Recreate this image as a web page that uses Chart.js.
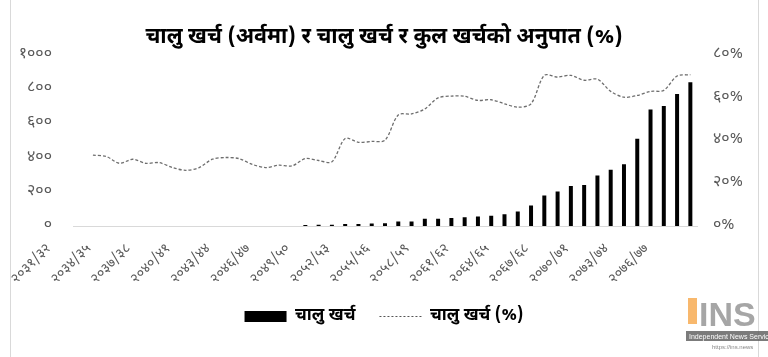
<!DOCTYPE html>
<html>
<head>
<meta charset="utf-8">
<script src="https://cdn.jsdelivr.net/npm/chart.js@4.4.1/dist/chart.umd.min.js"></script>
<style>
  html, body { margin: 0; padding: 0; background: #ffffff; }
  #wrap { width: 768px; height: 357px; position: relative; }
</style>
</head>
<body>
<div id="wrap"><canvas id="c" width="768" height="357"></canvas></div>
<script>
// ---------- data ----------
const categories = ['२०३१/३२','२०३२/३३','२०३३/३४','२०३४/३५','२०३५/३६','२०३६/३७','२०३७/३८','२०३८/३९','२०३९/४०','२०४०/४१','२०४१/४२','२०४२/४३','२०४३/४४','२०४४/४५','२०४५/४६','२०४६/४७','२०४७/४८','२०४८/४९','२०४९/५०','२०५०/५१','२०५१/५२','२०५२/५३','२०५३/५४','२०५४/५५','२०५५/५६','२०५६/५७','२०५७/५८','२०५८/५९','२०५९/६०','२०६०/६१','२०६१/६२','२०६२/६३','२०६३/६४','२०६४/६५','२०६५/६६','२०६६/६७','२०६७/६८','२०६८/६९','२०६९/७०','२०७०/७१','२०७१/७२','२०७२/७३','२०७३/७४','२०७४/७५','२०७५/७६','२०७६/७७','२०७७/७८'];
const currentExpenditure = [0.1,0.1,0.1,0.1,0.1,0.2,0.2,0.2,0.2,0.3,0.3,0.3,0.4,0.4,0.5,0.5,0.6,6,7,8,11,12,14,16,26,27,42,42,46,51,55,60,69,85,120,178,201,234,240,295,328,361,509,681,701,771,839];
const currentSharePct = [null,33.1,32.5,29.3,31.2,29.3,29.6,27.3,26.0,27.3,31.2,32.0,31.5,28.8,27.3,28.4,28.1,31.5,30.6,30.0,40.9,39.1,39.5,40.1,51.9,52.4,54.7,59.9,60.7,60.6,58.7,59.0,57.1,55.5,57.1,70.4,69.6,70.4,68.1,68.6,62.9,60.2,61.0,62.9,63.4,70.1,70.7];
const leftTickLabels = ['०','२००','४००','६००','८००','१०००'];
const rightTickLabels = ['०%','२०%','४०%','६०%','८०%'];
const seriesNames = ['चालु खर्च', 'चालु खर्च (%)'];
const titleText = 'चालु खर्च (अर्वमा) र चालु खर्च र कुल खर्चको अनुपात (%)';

const FONT = "'Noto Sans Devanagari','Noto Serif Devanagari','Lohit Devanagari','FreeSerif','Noto Sans',sans-serif";

const decor = {
  id: 'decor',
  afterDraw(chart) {
    const ctx = chart.ctx;
    ctx.save();
    ctx.strokeStyle = '#d9d9d9';
    ctx.lineWidth = 1;
    ctx.beginPath();
    ctx.moveTo(10.5, 0); ctx.lineTo(10.5, 357);
    ctx.moveTo(758.5, 0); ctx.lineTo(758.5, 357);
    ctx.stroke();
    // watermark
    ctx.fillStyle = 'rgba(245,160,60,0.75)';
    ctx.fillRect(688, 298, 9, 26);
    ctx.fillStyle = 'rgba(150,150,150,0.85)';
    ctx.font = "bold 34px 'Liberation Sans', sans-serif";
    ctx.textBaseline = 'alphabetic';
    ctx.fillText('INS', 699, 326);
    ctx.fillStyle = 'rgba(90,90,90,0.8)';
    ctx.fillRect(686, 331, 82, 10);
    ctx.fillStyle = '#ffffff';
    ctx.font = "7px 'Liberation Sans', sans-serif";
    ctx.fillText('Independent News Service', 689, 339);
    ctx.fillStyle = 'rgba(120,120,120,0.9)';
    ctx.font = "6px 'Liberation Sans', sans-serif";
    ctx.fillText('https://ins.news', 712, 349);
    ctx.restore();
  }
};

new Chart(document.getElementById('c'), {
  data: {
    labels: categories,
    datasets: [
      {
        type: 'bar',
        label: seriesNames[0],
        data: currentExpenditure,
        backgroundColor: '#000000',
        yAxisID: 'y',
        barPercentage: 0.3,
        categoryPercentage: 1.0,
        order: 2
      },
      {
        type: 'line',
        label: seriesNames[1],
        data: currentSharePct,
        borderColor: '#6e6e6e',
        borderWidth: 1.3,
        borderDash: [3, 2],
        pointRadius: 0,
        tension: 0.3,
        fill: false,
        yAxisID: 'y1',
        order: 1
      }
    ]
  },
  options: {
    responsive: false,
    animation: false,
    layout: { padding: { left: 0, right: 0, top: 0, bottom: 22 } },
    plugins: {
      title: {
        display: true,
        text: titleText,
        color: '#000000',
        font: { family: FONT, size: 21.5, weight: 'bold' },
        padding: { top: 26, bottom: 3 }
      },
      legend: {
        position: 'bottom',
        labels: {
          usePointStyle: true,
          pointStyleWidth: 42,
          boxHeight: 11,
          padding: 24,
          color: '#000000',
          font: { family: FONT, size: 17, weight: 'bold' },
          generateLabels() {
            return [
              { text: seriesNames[0], fillStyle: '#000000', strokeStyle: '#000000', lineWidth: 0, pointStyle: 'rect', datasetIndex: 0 },
              { text: seriesNames[1], fillStyle: 'rgba(0,0,0,0)', strokeStyle: '#555555', lineWidth: 1, lineDash: [2, 2], pointStyle: 'line', datasetIndex: 1 }
            ];
          }
        }
      },
      tooltip: { enabled: false }
    },
    scales: {
      x: {
        grid: { display: false, drawTicks: false },
        border: { display: true, color: '#d9d9d9', width: 1 },
        ticks: {
          autoSkip: false,
          minRotation: 45,
          maxRotation: 45,
          padding: 15,
          labelOffset: -30,
          color: '#595959',
          font: { family: FONT, size: 14 },
          callback: (v, i) => (i % 3 === 0 ? categories[i] : '')
        },
        afterFit: (s) => { s.height = 58; }
      },
      y: {
        position: 'left',
        min: 0, max: 1000,
        grid: { display: false, drawTicks: false },
        border: { display: false },
        ticks: {
          stepSize: 200,
          padding: 21,
          color: '#595959',
          font: { family: FONT, size: 16 },
          callback: (v, i) => leftTickLabels[i]
        },
        afterFit: (s) => { s.width = 73; }
      },
      y1: {
        position: 'right',
        min: 0, max: 80,
        grid: { display: false, drawTicks: false },
        border: { display: false },
        ticks: {
          stepSize: 20,
          padding: 16,
          color: '#595959',
          font: { family: FONT, size: 16 },
          callback: (v, i) => rightTickLabels[i]
        },
        afterFit: (s) => { s.width = 71; }
      }
    }
  },
  plugins: [decor]
});
</script>
</body>
</html>
